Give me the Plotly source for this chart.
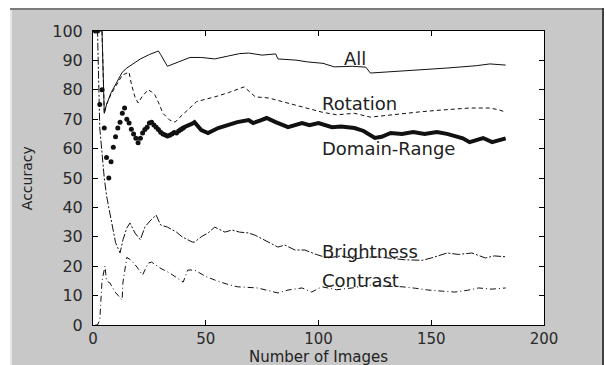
import plotly.graph_objects as go

# ---------------- data ----------------
all_x = [1, 4, 5, 6, 8, 11, 13, 15, 18, 21, 25, 29, 30, 33, 38, 43, 48, 54, 60, 65, 69, 75, 81, 82, 90,
         95, 102, 107, 115, 121, 123, 130, 136, 149, 157, 164, 170, 176, 180, 183]
all_y = [100, 100, 72, 75, 79, 83, 86, 87.4, 89, 90.5, 92, 93.2, 92, 88, 89.5, 91, 91, 90.5, 91.5, 92.3,
         92.5, 91.8, 92.2, 90.5, 90.1, 89.5, 89, 87.8, 88, 87.7, 85.7, 86, 86.2, 87, 87.4, 87.8, 88.2,
         88.8, 88.6, 88.4]

rot_x = [1, 4, 5, 6, 8, 11, 13, 16, 17, 18.6, 20, 21.7, 24.4, 26, 27.5, 29, 31, 34, 36.4, 38.6, 43, 46,
         54, 60, 67, 72, 78, 86.5, 95, 101.5, 108, 116, 123, 130, 137, 145, 152.5, 160, 167, 176, 180, 183]
rot_y = [100, 100, 72, 75, 78.5, 82.5, 85, 86, 82, 77.6, 75.5, 77.6, 80, 79.3, 78.2, 75.8, 72, 69.7, 69,
         70.7, 74, 76, 77.6, 79, 81, 77.6, 77.2, 75.5, 73.8, 72.4, 71.5, 72, 70.7, 71.3, 72, 72.5, 73,
         73.4, 73.8, 73.8, 73.2, 72.4]

dr_dot_x = list(range(1, 41))
dr_dot_y = [100, 100, 75, 80, 67, 57, 50, 55.5, 60.5, 64, 67, 69, 72, 73.8, 70, 68.7, 66.6, 65, 63.5, 62,
            63.5, 65.3, 66.5, 67.3, 68.7, 69, 68, 67.3, 66.5, 65.6, 65, 64.6, 64.3, 64.5, 65, 65.5,
            65.3, 66, 66.5, 67]
dr_line_x = [38, 41, 44, 45, 48, 51, 55.5, 60, 64, 69, 71, 74, 77, 81, 86.5, 92.7, 96, 100, 106, 110,
             116, 120, 125, 128, 132, 137, 142, 147, 152.5, 157, 161, 164, 167, 170, 173, 177, 180, 183]
dr_line_y = [66, 67.5, 68.5, 69, 66.3, 65.3, 67, 68, 69, 69.7, 68.7, 69.5, 70.4, 69, 67.3, 68.7, 68,
             68.7, 67.3, 67.5, 67, 66, 63.6, 64, 65.3, 65, 65.6, 65, 65.6, 65, 64, 63.5, 62.2, 63, 63.6,
             62.2, 63, 63.5]

bri_x = [1, 2, 3, 4, 5, 6, 7, 8, 9, 10, 12, 13.3, 15, 16.4, 18.6, 21, 23, 25.3, 28, 30, 33, 37, 39.5, 44,
         45, 48, 51, 54, 58.5, 61.6, 65, 69, 72, 76, 82, 85, 89.6, 94, 99, 104, 110, 116, 121, 126, 132,
         138, 146, 151, 157, 162, 168, 174, 178, 183]
bri_y = [100, 100, 67, 58, 50, 44, 40, 36, 31, 28, 24.5, 29, 33, 34.7, 31.3, 29, 33.3, 35.4, 37.4, 34,
         33.3, 31.6, 30, 28.2, 28.2, 30, 31.3, 33.3, 31.6, 32.3, 31.6, 31.3, 30.5, 29, 26.5, 27.2, 25.5,
         25.5, 24, 22.8, 23.5, 22.5, 23, 23.2, 22.8, 22.2, 22, 23, 24.5, 24, 24.5, 22.8, 23.5, 23.2]

con_x = [1, 2, 3, 4, 5.3, 6, 7.5, 9.8, 12.9, 13.3, 15, 17, 19.5, 22, 24.4, 26, 29.7, 34, 40, 42, 45, 50,
         54, 59, 64, 73, 82, 86.5, 92.7, 97, 101.5, 108, 115, 122, 130, 137, 143, 148.5, 155, 160.5,
         166, 171, 177, 183]
con_y = [0, 0, 1.7, 15, 20, 15, 14.3, 11.2, 8.5, 14.6, 23, 22, 19.7, 17, 21, 21.4, 19.4, 17.7, 14.6,
         18.7, 18.7, 16.5, 15.3, 14, 13, 12.6, 10.9, 11.9, 12.6, 11.2, 13, 12, 12.6, 13.6, 13.2, 13,
         12.5, 11.9, 11.5, 11.2, 11.8, 12.6, 12.2, 12.6]

labels = ["All", "Rotation", "Domain-Range", "Brightness", "Contrast"]
label_x = [110.5, 100.5, 100.5, 100.5, 100.5]
label_y = [90.5, 75.2, 60, 25, 15]

x_ticks = [0, 50, 100, 150, 200]
y_ticks = list(range(0, 101, 10))

# ---------------- figure ----------------
FONT = "DejaVu Sans"
INK = "#111111"
fig = go.Figure()
fig.add_trace(go.Scatter(x=all_x, y=all_y, mode="lines", line=dict(color=INK, width=1)))
fig.add_trace(go.Scatter(x=rot_x, y=rot_y, mode="lines",
                         line=dict(color=INK, width=1, dash="4px,3px")))
fig.add_trace(go.Scatter(x=bri_x, y=bri_y, mode="lines",
                         line=dict(color=INK, width=1, dash="8px,2px,2px,2px")))
fig.add_trace(go.Scatter(x=con_x, y=con_y, mode="lines",
                         line=dict(color=INK, width=1, dash="6px,3px,1px,3px")))
fig.add_trace(go.Scatter(x=dr_dot_x, y=dr_dot_y, mode="markers",
                         marker=dict(color=INK, size=5, symbol="circle")))
fig.add_trace(go.Scatter(x=dr_line_x, y=dr_line_y, mode="lines",
                         line=dict(color=INK, width=4)))

for t, lx, ly in zip(labels, label_x, label_y):
    fig.add_annotation(x=lx, y=ly, text=t, showarrow=False, xanchor="left", yanchor="middle",
                       font=dict(family=FONT, size=18, color="#222222"))

# axis titles
fig.add_annotation(xref="paper", yref="paper", x=0.5, y=(325 - 347) / 294.0, text="Number of Images",
                   showarrow=False, xanchor="center", yanchor="top", borderpad=0,
                   font=dict(family=FONT, size=15, color="#222222"))
fig.add_annotation(xref="paper", yref="paper", x=-0.146, y=0.5, text="Accuracy", textangle=-90,
                   showarrow=False, xanchor="center", yanchor="middle",
                   font=dict(family=FONT, size=14, color="#222222"))

# window frame decoration
def px_x(p):
    return (p - 93) / 451.0

def px_y(p):
    return (325 - p) / 294.0

shapes = [
    dict(type="rect", xref="paper", yref="paper", x0=px_x(-5), x1=px_x(611), y0=px_y(8), y1=px_y(-5),
         fillcolor="white", line=dict(width=0), layer="above"),
    dict(type="rect", xref="paper", yref="paper", x0=px_x(-5), x1=px_x(10), y0=px_y(370), y1=px_y(8),
         fillcolor="white", line=dict(width=0), layer="above"),
    dict(type="rect", xref="paper", yref="paper", x0=px_x(10), x1=px_x(603), y0=px_y(10), y1=px_y(8),
         fillcolor="#7a7a7a", line=dict(width=0), layer="above"),
    dict(type="rect", xref="paper", yref="paper", x0=px_x(10), x1=px_x(12), y0=px_y(370), y1=px_y(10),
         fillcolor="#e6e6e6", line=dict(width=0), layer="above"),
    dict(type="rect", xref="paper", yref="paper", x0=px_x(602), x1=px_x(604), y0=px_y(370), y1=px_y(8),
         fillcolor="#404040", line=dict(width=0), layer="above"),
    dict(type="rect", xref="paper", yref="paper", x0=px_x(604), x1=px_x(611), y0=px_y(370), y1=px_y(8),
         fillcolor="white", line=dict(width=0), layer="above"),
]

axis_common = dict(showgrid=False, zeroline=False, showline=True, linecolor="#000000", linewidth=1,
                   mirror="ticks", ticks="inside", ticklen=5, tickcolor="#000000")

fig.update_layout(
    width=606, height=365,
    margin=dict(l=93, r=62, t=31, b=40),
    paper_bgcolor="#c8c8c8", plot_bgcolor="white",
    showlegend=False,
    shapes=shapes,
    xaxis=dict(range=[0, 200], tickvals=x_ticks, ticktext=[str(v) for v in x_ticks],
               ticklabelstandoff=0, tickfont=dict(family=FONT, size=15, color="#2a2a2a"),
               **axis_common),
    yaxis=dict(range=[0, 100], tickvals=y_ticks, ticktext=[str(v) for v in y_ticks],
               ticklabelstandoff=6, tickfont=dict(family=FONT, size=16, color="#2a2a2a"),
               **axis_common),
)

fig.write_html("out.html", config={"displayModeBar": False},
               post_script="document.body.style.margin='0px';document.body.style.overflow='hidden';")
